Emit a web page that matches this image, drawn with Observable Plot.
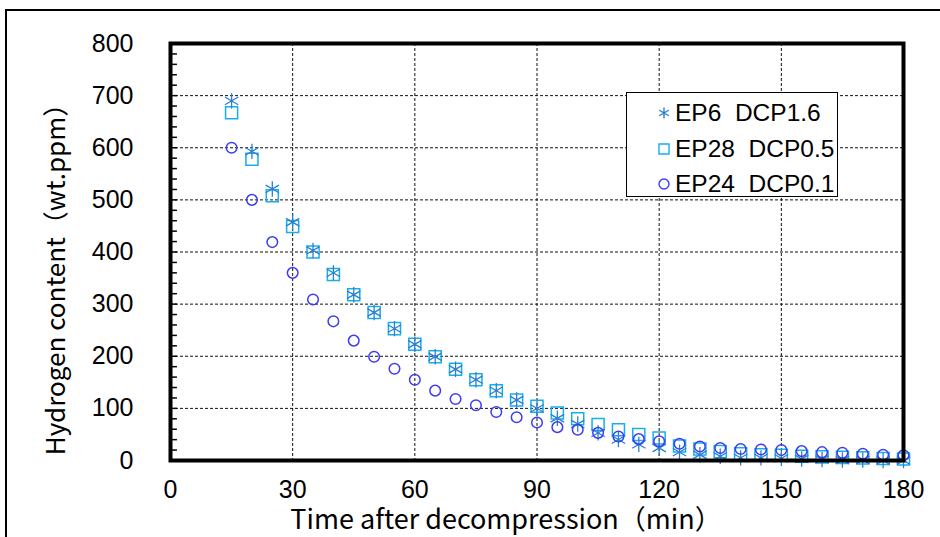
<!DOCTYPE html>
<html><head><meta charset="utf-8">
<script src="https://cdn.jsdelivr.net/npm/d3@7"></script>
<script src="https://cdn.jsdelivr.net/npm/@observablehq/plot@0.6"></script>
<style>
html,body{margin:0;padding:0;background:#fff;overflow:hidden;}
#wrap{position:relative;width:940px;height:537px;overflow:hidden;}
#chart{position:absolute;left:0;top:0;}
#outer{position:absolute;left:5px;top:9px;width:1000px;height:1000px;border:2px solid #000;box-sizing:border-box;pointer-events:none;}
#legend{position:absolute;left:626px;top:92px;width:212px;height:105px;border:1.5px solid #000;background:#fff;box-sizing:border-box;font-family:"Liberation Sans",Arial,sans-serif;font-size:24.5px;color:#000;}
.row{position:absolute;left:0;height:36px;white-space:pre;}
.row svg{position:absolute;left:27px;top:8px;}
.row span{position:absolute;left:48px;top:50%;transform:translateY(-50%);line-height:1;}
</style></head><body>
<div id="wrap"><div id="chart"></div><div id="outer"></div><div id="legend"></div></div>
<script>
const times = [15,20,25,30,35,40,45,50,55,60,65,70,75,80,85,90,95,100,105,110,115,120,125,130,135,140,145,150,155,160,165,170,175,180];
const ep6  = [690,593,521,457,403,360,318,284,253,223,199,175,155,134,116,100,81,70,53,40,31,24,16,11,8,5,5,4,3,2,1,1,0,0];
const ep28 = [667,578,508,449,400,357,318,284,253,223,199,175,155,134,116,104,91,80,69,59,50,43,28,22,17,13,11,10,8,7,6,5,4,3];
const ep24 = [600,500,419,360,309,267,230,199,176,155,134,118,106,93,83,73,64,59,53,46,41,37,32,27,24,22,21,20,18,16,15,13,11,10];
const seriesNames = ["EP6  DCP1.6", "EP28  DCP0.5", "EP24  DCP0.1"];
const seriesSymbols = ["asterisk", "square", "circle"];
const seriesColors = ["#2a7fd4", "#17aeea", "#3c3cf2"];
const xTicks = [0,30,60,90,120,150,180];
const yTicks = [0,100,200,300,400,500,600,700,800];
const yMinorTicks = [0,20,40,60,80,100,120,140,160,180,200,220,240,260,280,300,320,340,360,380,400,420,440,460,480,500,520,540,560,580,600,620,640,660,680,700,720,740,760,780,800];
const xLabel = "Time after decompression（min）";
const yLabel = "Hydrogen content（wt.ppm）";

const toRows = vals => times.map((t, j) => ({t, v: vals[j]}));
const dash = {stroke: "#111", strokeWidth: 1, strokeDasharray: "3,2"};
const labelFont = "'Noto Sans CJK JP', 'Noto Sans', sans-serif";

const chart = Plot.plot({
  width: 940, height: 537,
  marginLeft: 170, marginRight: 37, marginTop: 43, marginBottom: 77,
  style: {background: "transparent", fontFamily: "'Liberation Sans', Arial, sans-serif", color: "#000"},
  x: {domain: [0, 180]},
  y: {domain: [0, 800]},
  marks: [
    Plot.ruleX(xTicks.slice(1, -1), dash),
    Plot.ruleY(yTicks.slice(1, -1), dash),
    Plot.ruleY(yMinorTicks, {x1: 0, x2: 1.7, stroke: "#000", strokeWidth: 1.5}),
    Plot.axisX({ticks: xTicks, tickSize: 0, tickPadding: 20, fontSize: 25, label: null, tickFormat: d => String(d)}),
    Plot.axisY({ticks: yTicks, tickSize: 0, tickPadding: 37, fontSize: 25, label: null, tickFormat: d => String(d)}),
    Plot.dot(toRows(ep28), {x: "t", y: "v", symbol: "square", r: 6.8, stroke: seriesColors[1], fill: "none", strokeWidth: 1.5}),
    Plot.dot(toRows(ep6), {x: "t", y: "v", symbol: "asterisk", r: 7.3, stroke: seriesColors[0], fill: "none", strokeWidth: 1.3}),
    Plot.dot(toRows(ep24), {x: "t", y: "v", symbol: "circle", r: 5.3, stroke: seriesColors[2], fill: "none", strokeWidth: 1.5}),
    Plot.frame({stroke: "#000", strokeWidth: 4}),
    Plot.text([xLabel], {frameAnchor: "bottom", textAnchor: "middle", lineAnchor: "bottom", dx: -31, dy: 68, fontSize: 27, fontFamily: labelFont, fill: "#000"}),
    Plot.text([yLabel], {frameAnchor: "left", rotate: -90, textAnchor: "middle", lineAnchor: "middle", dx: -114, dy: 21, fontSize: 26, fontFamily: labelFont, fill: "#000"})
  ]
});
document.getElementById("chart").appendChild(chart);

// legend
const legend = d3.select("#legend");
const legendSymbols = {asterisk: d3.symbolAsterisk, square: d3.symbolSquare, circle: d3.symbolCircle};
const legendSizes = {asterisk: 85, square: 100, circle: 78};
const rowTops = [2, 38, 73];
seriesNames.forEach((name, i) => {
  const row = legend.append("div").attr("class", "row").style("top", rowTops[i] + "px").style("width", "210px");
  const svg = row.append("svg").attr("width", 20).attr("height", 20);
  svg.append("path")
    .attr("transform", "translate(10,10)")
    .attr("d", d3.symbol(legendSymbols[seriesSymbols[i]], legendSizes[seriesSymbols[i]])())
    .attr("fill", "none").attr("stroke", seriesColors[i]).attr("stroke-width", 1.4);
  row.append("span").text(name);
});
</script>
</body></html>
